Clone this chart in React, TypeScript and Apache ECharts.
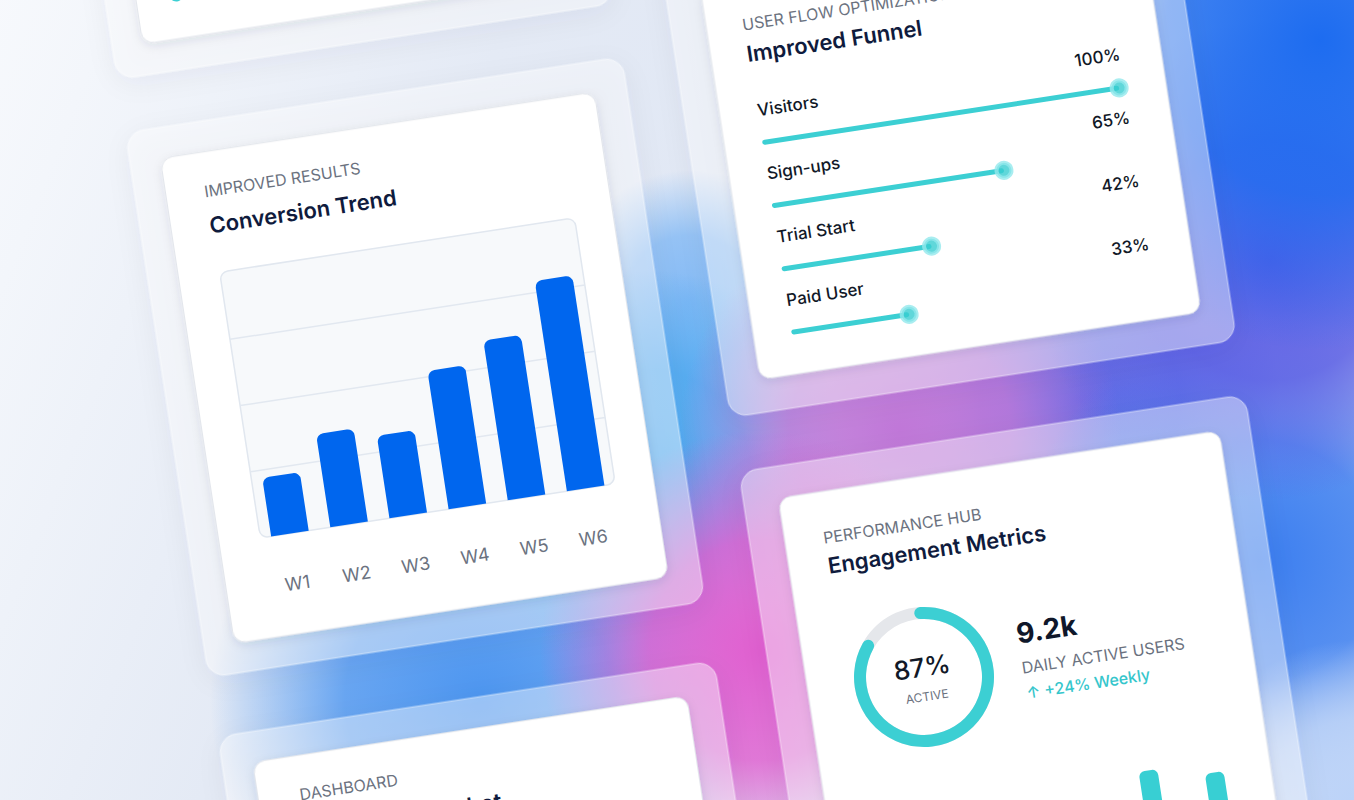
import React, { useEffect, useRef } from "react";
import * as echarts from "echarts";

// ---------- data ----------
const weeks = ["W1", "W2", "W3", "W4", "W5", "W6"];
const conversionValues = [22, 35, 31, 52, 60, 79];

const funnelStages = ["Visitors", "Sign-ups", "Trial Start", "Paid User"];
const funnelValues = [100, 65, 42, 33];

const activeShare = 87;
const dailyActiveUsers = "9.2k";
const weeklyChange = "↑ +24% Weekly";

const engagementDays = ["D1", "D2", "D3", "D4", "D5", "D6"];
const engagementValues = [45, 55, 40, 50, 75, 63];

const cardTexts = {
  conversionKicker: "IMPROVED RESULTS",
  conversionTitle: "Conversion Trend",
  funnelKicker: "USER FLOW OPTIMIZATION",
  funnelTitle: "Improved Funnel",
  engagementKicker: "PERFORMANCE HUB",
  engagementTitle: "Engagement Metrics",
  dashboardKicker: "DASHBOARD",
  dashboardTitle: "Revenue Snapshot",
  dauLabel: "DAILY ACTIVE USERS",
  activeLabel: "ACTIVE",
};

const W = 1490;
const H = 1020;
const FONT = "Inter, 'Noto Sans', sans-serif";
const TEAL = "#3ccfd3";

function rgba(hex: string, a: number) {
  const n = parseInt(hex.slice(1), 16);
  return `rgba(${(n >> 16) & 255},${(n >> 8) & 255},${n & 255},${a})`;
}

function blob(cx: number, cy: number, r: number, color: string, a = 1) {
  return {
    type: "circle",
    silent: true,
    z: -90,
    shape: { cx, cy, r },
    style: {
      fill: {
        type: "radial",
        x: 0.5,
        y: 0.5,
        r: 0.5,
        colorStops: [
          { offset: 0, color: rgba(color, a) },
          { offset: 0.5, color: rgba(color, a * 0.82) },
          { offset: 1, color: rgba(color, 0) },
        ],
      },
    },
  };
}

function outerCard(x: number, y: number, w: number, h: number) {
  return {
    type: "rect",
    silent: true,
    z: -50,
    shape: { x, y, width: w, height: h, r: 18 },
    style: {
      fill: "rgba(255,255,255,0.42)",
      stroke: "rgba(255,255,255,0.55)",
      lineWidth: 1,
      shadowBlur: 26,
      shadowColor: "rgba(40,50,90,0.12)",
      shadowOffsetY: 6,
    },
  };
}

function innerCard(x: number, y: number, w: number, h: number) {
  return {
    type: "rect",
    silent: true,
    z: -40,
    shape: { x, y, width: w, height: h, r: 12 },
    style: {
      fill: "#ffffff",
      stroke: "#e3e6ec",
      lineWidth: 1,
      shadowBlur: 10,
      shadowColor: "rgba(30,40,80,0.10)",
      shadowOffsetY: 3,
    },
  };
}

function txt(x: number, y: number, text: string, font: string, fill: string, align = "left") {
  return {
    type: "text",
    silent: true,
    z: 20,
    x,
    y,
    style: { text, font, fill, textAlign: align, textVerticalAlign: "middle" },
  };
}

export default function App() {
  const ref = useRef<HTMLDivElement>(null);

  useEffect(() => {
    if (!ref.current) return;
    const chart = echarts.init(ref.current, undefined, { renderer: "svg" });

    const graphics: any[] = [
      {
        type: "rect",
        silent: true,
        z: -100,
        shape: { x: 0, y: 0, width: W, height: H },
        style: {
          fill: {
            type: "linear",
            x: 0,
            y: 0,
            x2: 1,
            y2: 0.4,
            colorStops: [
              { offset: 0, color: "#fbfcfe" },
              { offset: 0.15, color: "#f3f6fb" },
              { offset: 0.4, color: "#e4eaf5" },
              { offset: 1, color: "#d9e2f3" },
            ],
          },
        },
      },
      blob(766.6, 411, 130, "#7ab5f5", 0.9),
      blob(498.6, 774.5, 270, "#4d96f0"),
      blob(701.4, 572.9, 200, "#47a6f0"),
      blob(1137.1, 568.8, 200, "#5f68e4"),
      blob(954.6, 571.3, 220, "#c077d8"),
      blob(783, 767.5, 220, "#e05fd0"),
      blob(1290.8, 754.2, 240, "#3b7ef0"),
      blob(1346.1, 459.2, 240, "#5a5ce4"),
      blob(1428.7, 249.2, 310, "#1d6cf0"),
      blob(1347, 1005.7, 160, "#bcd3f8"),

      // cards
      outerCard(234, -450, 502, 556),
      innerCard(264.5, -420, 439, 495),
      outerCard(234, 160, 502, 551),
      innerCard(264.5, 190.7, 439, 490.6),
      outerCard(234, 771, 502, 320),
      innerCard(264.5, 801.6, 439, 280),
      outerCard(789, 75, 512, 458),
      innerCard(824, 105, 446, 395),
      outerCard(789, 588, 512, 520),
      innerCard(824, 620, 446, 480),

      // conversion chart panel
      {
        type: "rect",
        silent: true,
        z: -30,
        shape: { x: 306, y: 312, width: 359, height: 269, r: 8 },
        style: { fill: "#f7f9fb", stroke: "#e1e7ef", lineWidth: 1.5 },
      },
      // glimpse of top card content
      { type: "circle", silent: true, z: 5, shape: { cx: 305, cy: 31, r: 7 }, style: { fill: TEAL } },

      // texts
      txt(303, 230, cardTexts.conversionKicker, `400 16px ${FONT}`, "#6b7280"),
      txt(303, 264.5, cardTexts.conversionTitle, `600 22px ${FONT}`, "#0f1b3d"),
      txt(860, 146.5, cardTexts.funnelKicker, `400 16px ${FONT}`, "#6b7280"),
      txt(860, 176.3, cardTexts.funnelTitle, `600 22px ${FONT}`, "#0f1b3d"),
      txt(862.5, 666, cardTexts.engagementKicker, `400 16px ${FONT}`, "#6b7280"),
      txt(863, 694.3, cardTexts.engagementTitle, `600 22px ${FONT}`, "#0f1b3d"),
      txt(306, 840.5, cardTexts.dashboardKicker, `400 16px ${FONT}`, "#6b7280"),
      txt(306, 877, cardTexts.dashboardTitle, `600 22px ${FONT}`, "#0f1b3d"),
      txt(940.5, 808.5, `${activeShare}%`, `500 26px ${FONT}`, "#111827", "center"),
      txt(941.2, 838.3, cardTexts.activeLabel, `400 12px ${FONT}`, "#6b7280", "center"),
      txt(1039, 790, dailyActiveUsers, `700 28px ${FONT}`, "#0f172a"),
      txt(1039, 824.5, cardTexts.dauLabel, `400 16px ${FONT}`, "#6b7280"),
      txt(1040, 850, weeklyChange, `500 16px ${FONT}`, "#35c6cc"),
    ];

    const labelFont = { fontFamily: FONT, fontSize: 17, fontWeight: 500, color: "#111827" };

    chart.setOption({
      animation: false,
      backgroundColor: "transparent",
      graphic: { elements: graphics },
      grid: [
        { left: 306, top: 312, width: 359, height: 269 },
        { left: 862, top: 234, width: 361, height: 256 },
        { left: 855, top: 920, width: 391, height: 120 },
      ],
      xAxis: [
        {
          gridIndex: 0,
          type: "category",
          data: weeks,
          axisLine: { show: false },
          axisTick: { show: false },
          axisLabel: { color: "#6b7280", fontSize: 18, fontFamily: FONT, margin: 41 },
        },
        { gridIndex: 1, type: "value", min: 0, max: 100, show: false },
        { gridIndex: 2, type: "category", data: engagementDays, show: false },
      ],
      yAxis: [
        {
          gridIndex: 0,
          type: "value",
          min: 0,
          max: 100,
          interval: 25,
          axisLabel: { show: false },
          axisLine: { show: false },
          axisTick: { show: false },
          splitLine: {
            show: true,
            showMinLine: false,
            showMaxLine: false,
            lineStyle: { color: "#e2e8f0", width: 1.5 },
          },
        },
        { gridIndex: 1, type: "category", data: funnelStages, inverse: true, show: false },
        { gridIndex: 2, type: "value", min: 0, max: 100, show: false },
      ],
      series: [
        {
          type: "bar",
          xAxisIndex: 0,
          yAxisIndex: 0,
          data: conversionValues,
          barWidth: 38,
          silent: true,
          itemStyle: { color: "#0066ee", borderRadius: [7, 7, 0, 0] },
        },
        {
          type: "bar",
          xAxisIndex: 1,
          yAxisIndex: 1,
          data: funnelValues.map(() => 100),
          barWidth: 5,
          silent: true,
          itemStyle: { color: "rgba(0,0,0,0)" },
          label: {
            show: true,
            position: ["100%", 0],
            align: "right",
            verticalAlign: "middle",
            offset: [6, -31],
            formatter: (p: any) => `${funnelValues[p.dataIndex]}%`,
            ...labelFont,
          },
        },
        {
          type: "bar",
          xAxisIndex: 1,
          yAxisIndex: 1,
          data: funnelValues,
          barWidth: 5,
          barGap: "-100%",
          silent: true,
          z: 3,
          itemStyle: { color: TEAL, borderRadius: 2.5 },
          label: {
            show: true,
            position: [0, 0],
            align: "left",
            verticalAlign: "middle",
            offset: [0, -30],
            formatter: "{b}",
            ...labelFont,
          },
        },
        {
          type: "scatter",
          xAxisIndex: 1,
          yAxisIndex: 1,
          data: funnelValues.map((v, i) => [v, funnelStages[i]]),
          symbolSize: 15,
          silent: true,
          z: 4,
          itemStyle: { color: "#38cdd1", borderColor: "#93e9ec", borderWidth: 4 },
        },
        {
          type: "pie",
          center: [941, 818.7],
          radius: [58, 70],
          silent: true,
          label: { show: false },
          labelLine: { show: false },
          data: [{ value: 100, itemStyle: { color: "#e5e7eb" } }],
        },
        {
          type: "pie",
          center: [941, 818.7],
          radius: [58, 70],
          startAngle: 90,
          clockwise: true,
          silent: true,
          z: 3,
          label: { show: false },
          labelLine: { show: false },
          data: [
            { value: activeShare, itemStyle: { color: TEAL, borderRadius: 6 } },
            { value: 100 - activeShare, itemStyle: { color: "rgba(0,0,0,0)" } },
          ],
        },
        {
          type: "bar",
          xAxisIndex: 2,
          yAxisIndex: 2,
          data: engagementValues,
          barWidth: 19,
          silent: true,
          itemStyle: { color: "#38cfd3", borderRadius: [6, 6, 0, 0] },
        },
      ],
    });

    return () => chart.dispose();
  }, []);

  return (
    <div
      style={{
        position: "fixed",
        left: 0,
        top: 0,
        width: 1354,
        height: 800,
        overflow: "hidden",
        background: "#f3f6fb",
      }}
    >
      <div
        ref={ref}
        style={{
          position: "absolute",
          left: -130,
          top: 9.78,
          width: W,
          height: H,
          transform: "rotate(-8.7deg)",
          transformOrigin: "0 0",
        }}
      />
    </div>
  );
}
